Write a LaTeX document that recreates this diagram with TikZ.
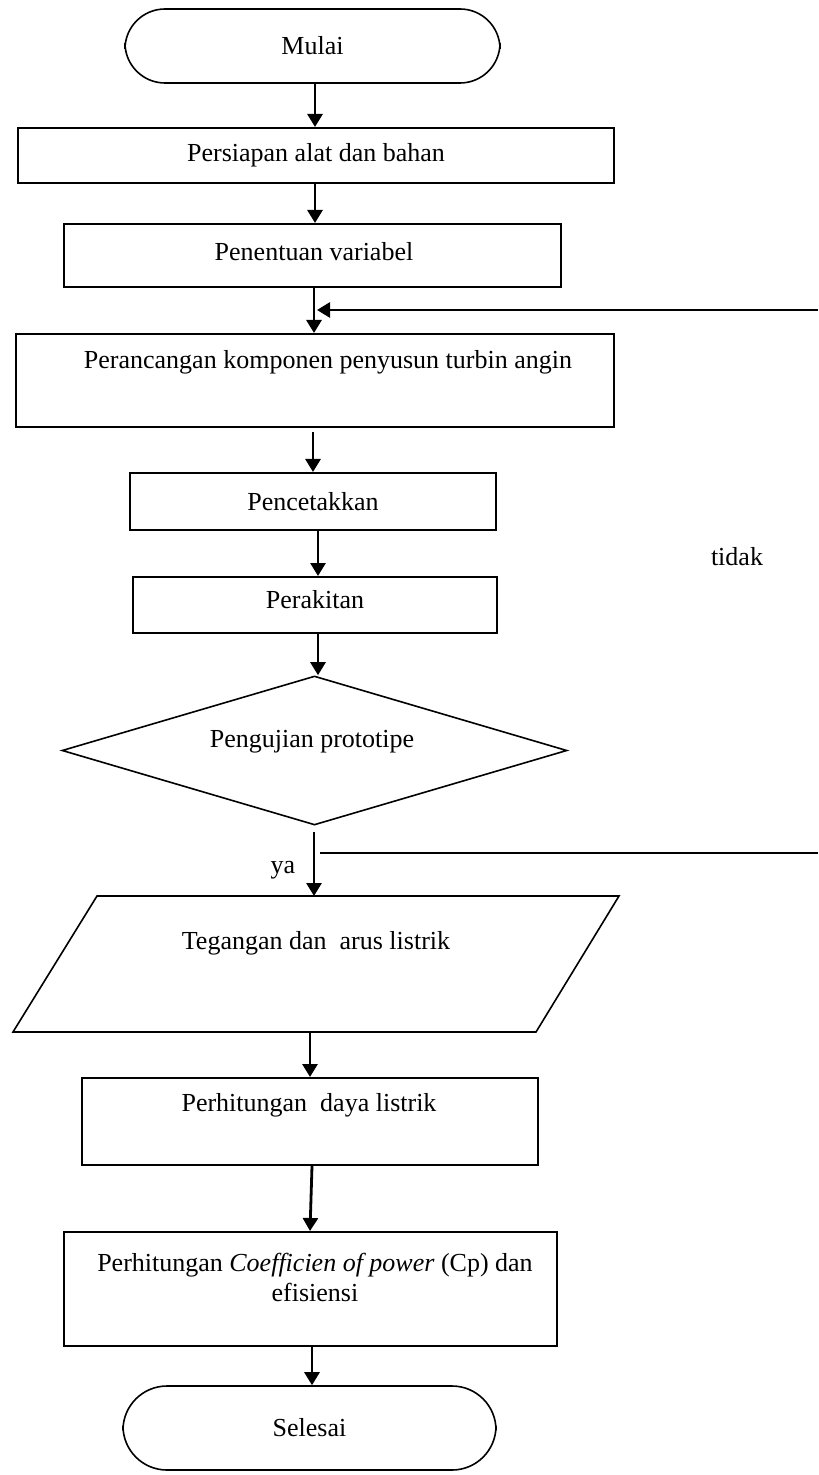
\documentclass[tikz,border=0pt]{standalone}
\usepackage{fontspec}
\setmainfont{Liberation Serif}
\usetikzlibrary{arrows.meta,shapes.geometric}
\begin{document}
\begin{tikzpicture}[x=0.5pt,y=-0.5pt,
  txt/.style={inner sep=0pt,font=\fontsize{13}{15}\selectfont,align=center},
  procbox/.style={draw,line width=1pt,inner sep=0pt,font=\fontsize{13}{15}\selectfont,align=center},
  termbox/.style={draw,line width=0.8pt,inner sep=0pt,rounded corners=20pt,font=\fontsize{13}{15}\selectfont},
  arr/.style={line width=1.4pt,-{Triangle[length=6.5pt,width=7.5pt]}},
  plain/.style={line width=1pt}]
\useasboundingbox (0,0) rectangle (818,1475);
% nodes
\node[termbox,minimum width=187.5pt,minimum height=37pt] (mulai) at (312.5,46) {Mulai};
\node[procbox,minimum width=298pt,minimum height=27.5pt] (persiapan) at (316,155.5) {Persiapan alat dan bahan};
\node[procbox,minimum width=248.5pt,minimum height=31.5pt] (penentuan) at (312.5,255.5) {};
\node[txt] (penentuanT) at (314,252) {Penentuan variabel};
\node[procbox,minimum width=299pt,minimum height=46.5pt] (perancangan) at (315,380.5) {};
\node[txt] (perancanganT) at (328,362) {Perancangan komponen penyusun turbin angin};
\node[procbox,minimum width=183pt,minimum height=28.5pt] (pencetakkan) at (313,501.5) {Pencetakkan};
\node[procbox,minimum width=182pt,minimum height=28pt] (perakitan) at (315,605) {};
\node[txt] (perakitanT) at (315,600) {Perakitan};
\node[draw,line width=0.8pt,shape=diamond,inner sep=0pt,minimum width=252.5pt,minimum height=74.5pt] (uji) at (314.5,750.5) {};
\node[txt] (ujiT) at (312,742) {Pengujian prototipe};
% parallelogram
\coordinate (pTL) at (97,896);
\coordinate (pTR) at (619,896);
\coordinate (pBR) at (536,1032);
\coordinate (pBL) at (13,1032);
\draw[line width=0.8pt] (pTL) -- (pTR) -- (pBR) -- (pBL) -- cycle;
\node[txt] (tegangan) at (316,943) {Tegangan dan\ \ arus listrik};
\node[procbox,minimum width=228pt,minimum height=43.5pt] (daya) at (310,1121.5) {};
\node[txt] (dayaT) at (309,1105) {Perhitungan\ \ daya listrik};
\node[procbox,minimum width=246.5pt,minimum height=57pt] (cp) at (310.5,1289) {};
\node[txt] (cpT) at (315,1277) {Perhitungan \textit{Coefficien of power} (Cp) dan\\efisiensi};
\node[termbox,rounded corners=22pt,minimum width=186.5pt,minimum height=42pt] (selesai) at (309.5,1428) {Selesai};
\node[txt] (tidak) at (737,557) {tidak};
\node[txt] (ya) at (283,870) {ya};
% x guides
\coordinate (x1) at (315,0);
\coordinate (x2) at (314,0);
\coordinate (x3) at (313,0);
\coordinate (x4) at (318,0);
\coordinate (x5) at (310,0);
\coordinate (x6) at (312,0);
% connectors
\draw[arr] (mulai.south -| x1) -- (persiapan.north -| x1);
\draw[arr] (persiapan.south -| x1) -- (penentuan.north -| x1);
\draw[arr] (penentuan.south -| x2) -- (perancangan.north -| x2);
\draw[arr] ([yshift=-2pt]perancangan.south -| x3) -- (pencetakkan.north -| x3);
\draw[arr] (pencetakkan.south -| x4) -- (perakitan.north -| x4);
\draw[arr] (perakitan.south -| x4) -- (uji.north -| x4);
\coordinate (ujiOut) at (314,832);
\coordinate (parTop) at (314,896);
\draw[arr] (ujiOut) -- (parTop);
\coordinate (tidakStart) at (320,853);
\coordinate (tidakEnd) at (818,853);
\draw[plain] (tidakStart) -- (tidakEnd);
\coordinate (backStart) at (818,310);
\coordinate (backEnd) at (317,310);
\draw[arr] (backStart) -- (backEnd);
\coordinate (parBot) at (310,1032);
\draw[arr] (parBot) -- (daya.north -| x5);
\draw[arr] ([xshift=1pt]daya.south -| x5) -- (cp.north -| x5);
\draw[arr] (cp.south -| x6) -- (selesai.north -| x6);
\end{tikzpicture}
\end{document}
